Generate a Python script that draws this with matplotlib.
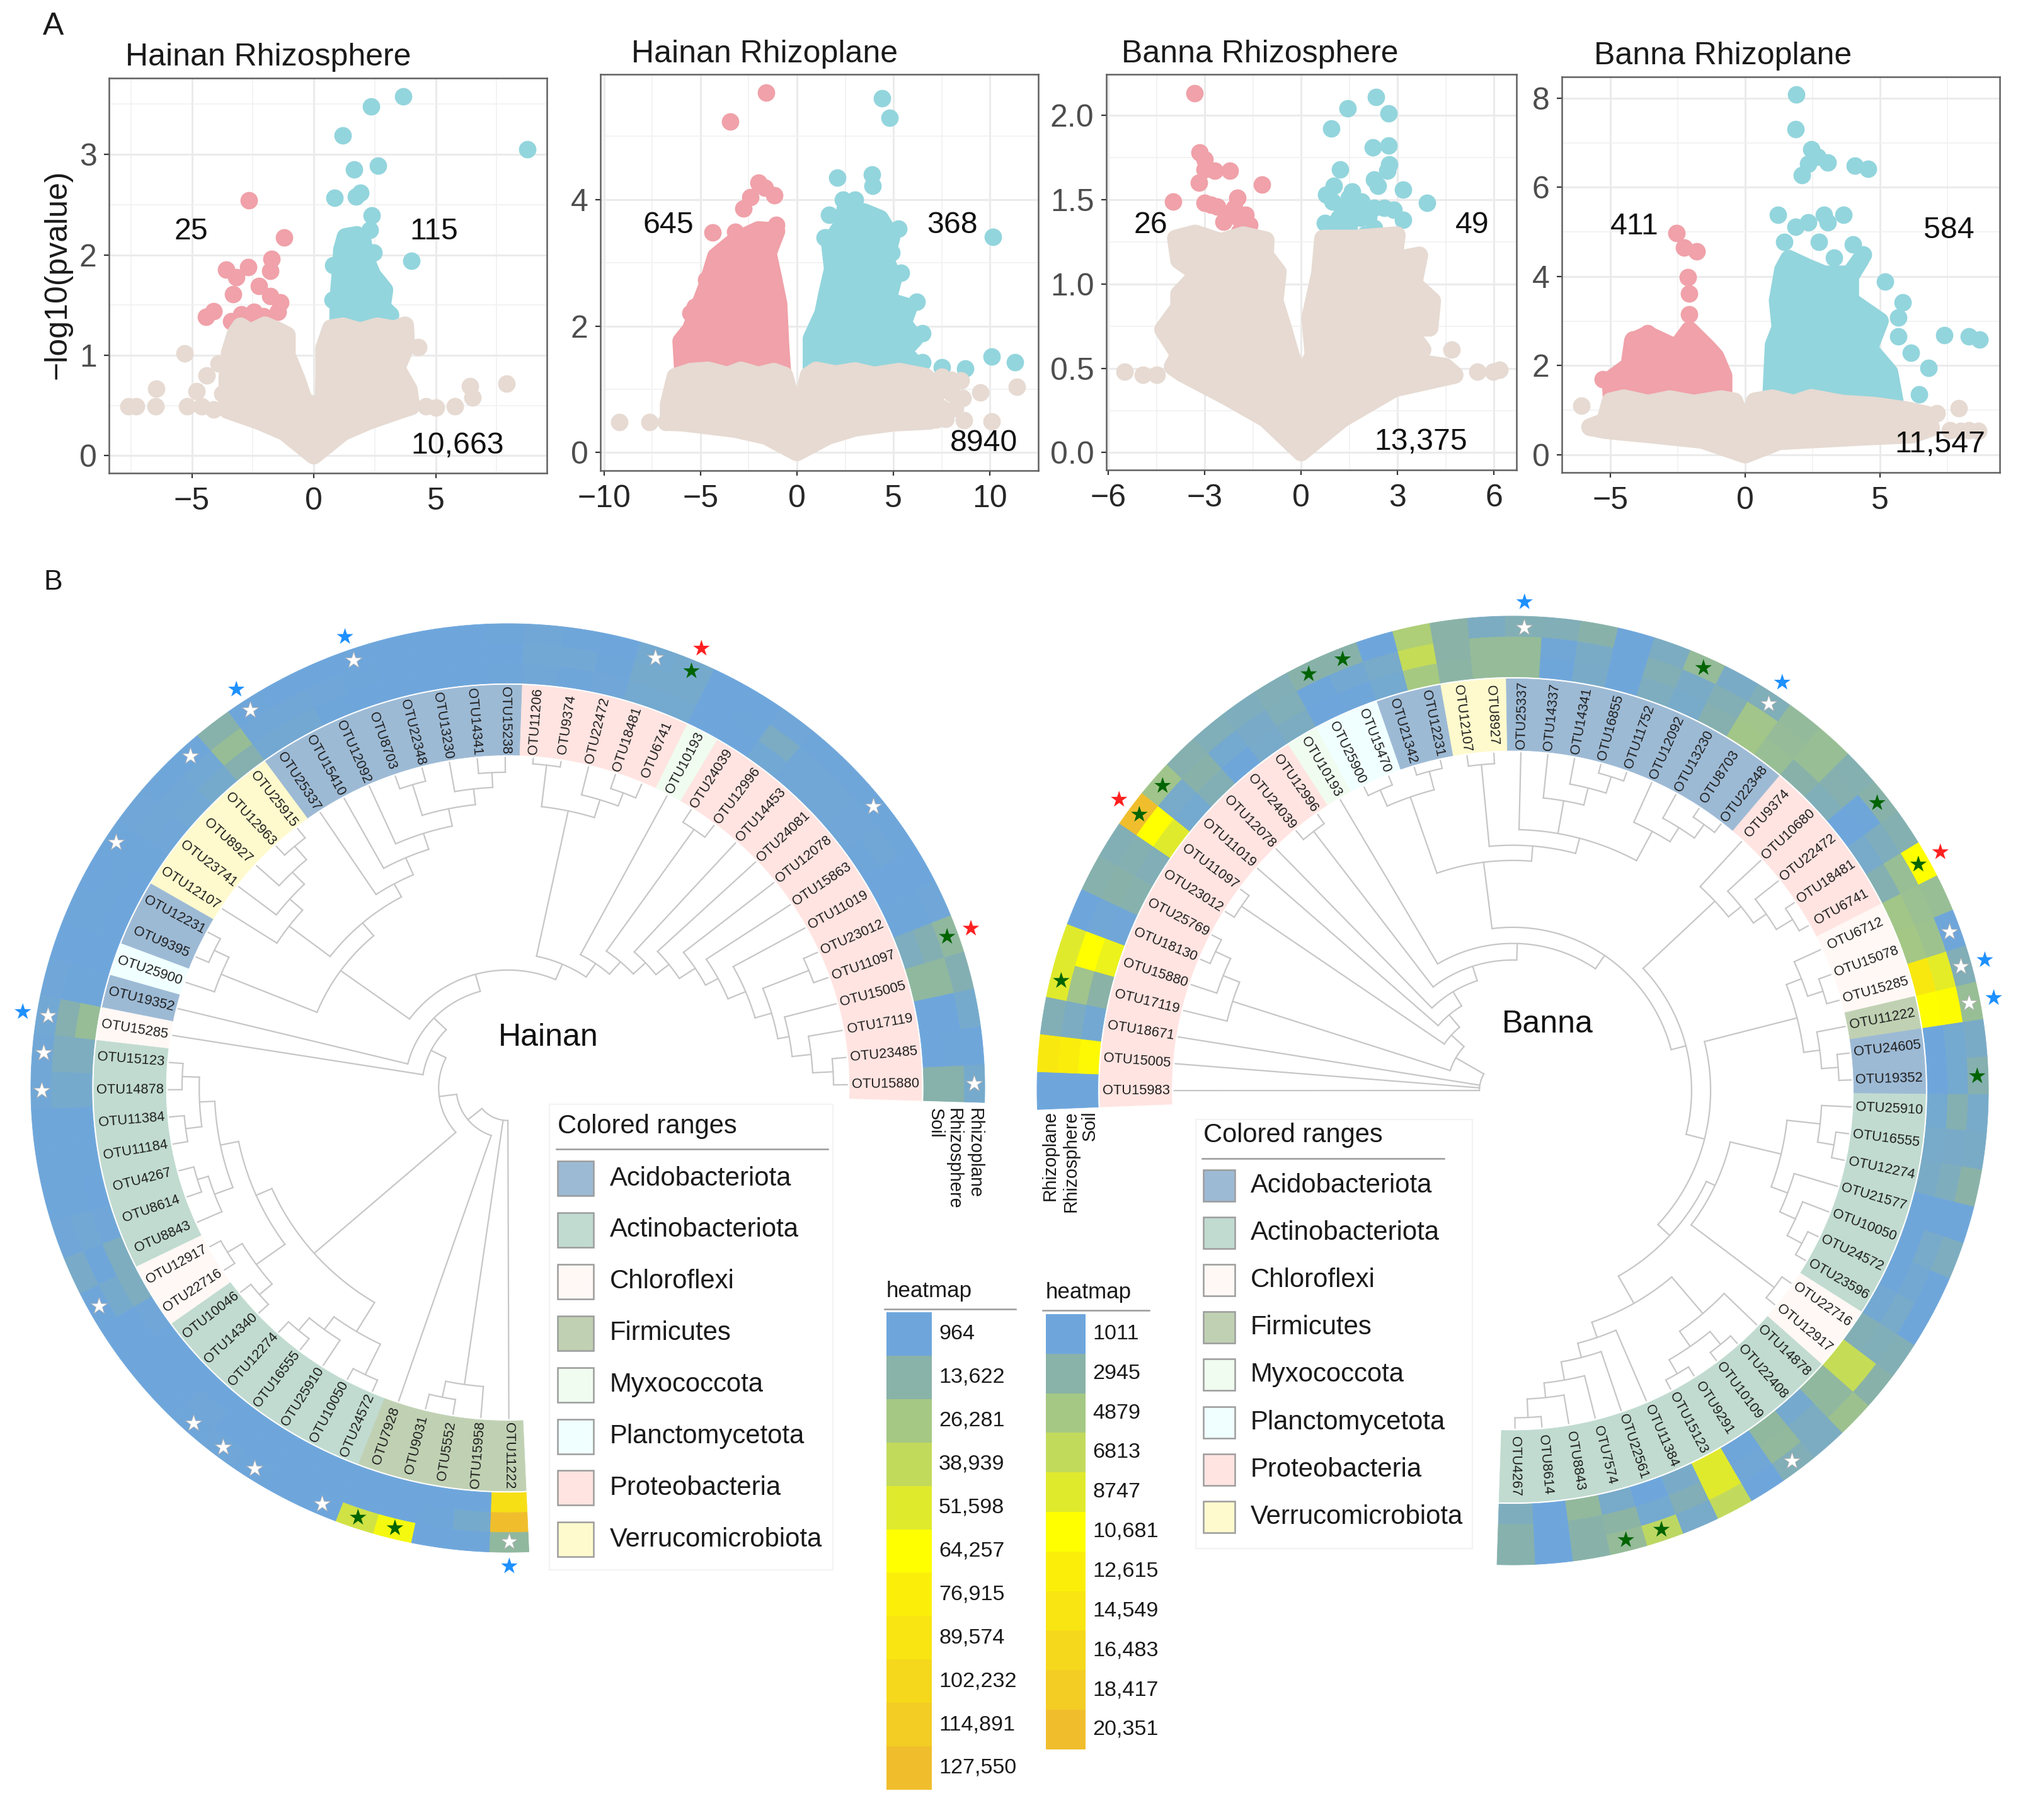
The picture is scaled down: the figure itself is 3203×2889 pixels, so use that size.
import numpy as np
import matplotlib
matplotlib.use('Agg')
import matplotlib.pyplot as plt
from matplotlib.colors import LinearSegmentedColormap

plt.rcParams['font.family'] = ['Liberation Sans', 'DejaVu Sans']

W, H = 3203, 2889
DPI = 200

BEIGE = '#E6DAD2'
PINK = '#F0A1A9'
CYAN = '#93D5DD'

############################
# Panel A, volcano data    #
############################

# polygon = centres of the dots on the rim of the overlapped mass, pts = dots that stand alone
hrs_beige_poly_x = [0, -1.2, -2.25, -3.55, -3.55, -3.55, -3.45, -3.2, -3.0, -2.6, -2.0, -1.5, -1.1, -1.1, -0.71, -0.4, 0, 0.4, 0.42, 0.42, 0.7, 1.2, 1.9, 2.6, 3.3, 3.75, 3.8, 3.4, 3.9, 4.0, 3.55, 2.25, 1.2]
hrs_beige_poly_y = [0, 0.235, 0.345, 0.455, 0.5, 0.77, 1.03, 1.22, 1.29, 1.23, 1.3, 1.25, 1.2, 1.0, 0.77, 0.55, 0.5, 0.55, 0.77, 1.07, 1.27, 1.29, 1.24, 1.29, 1.26, 1.3, 1.1, 0.87, 0.66, 0.49, 0.455, 0.345, 0.235]
hrs_beige_x = [-7.6, -7.3, -6.5, -6.45, -5.3, -4.4, -4.8, 5.8, 6.5, 6.4, 7.9, 4.3, -5.2, -4.6, -4.1, 4.6, 5.0, -3.9, -3.75]
hrs_beige_y = [0.49, 0.49, 0.49, 0.67, 1.02, 0.80, 0.64, 0.49, 0.58, 0.69, 0.72, 1.08, 0.49, 0.49, 0.46, 0.49, 0.48, 0.92, 0.62]
hrs_pink_x = [-2.66, -1.21, -1.72, -1.79, -3.59, -2.69, -3.19, -2.24, -3.32, -1.79, -1.37, -4.43, -4.12, -1.48, -2.98, -2.45, -3.38, -2.06, -2.72, -1.93]
hrs_pink_y = [2.54, 2.17, 1.96, 1.84, 1.85, 1.88, 1.78, 1.69, 1.61, 1.59, 1.53, 1.38, 1.44, 1.43, 1.41, 1.43, 1.34, 1.39, 1.31, 1.32]
hrs_cyan_poly_x = [1.0, 1.0, 1.1, 1.15, 1.3, 1.77, 2.0, 2.15, 2.4, 2.9, 2.8, 3.15, 3.0]
hrs_cyan_poly_y = [1.25, 1.55, 1.85, 2.05, 2.18, 2.2, 2.15, 1.95, 1.8, 1.65, 1.48, 1.4, 1.25]
hrs_cyan_x = [3.67, 2.35, 1.19, 8.76, 2.64, 1.64, 0.84, 1.72, 1.9, 2.37, 4.01, 2.3, 0.8, 0.78, 2.45, 2.2]
hrs_cyan_y = [3.58, 3.48, 3.19, 3.05, 2.89, 2.85, 2.57, 2.58, 2.62, 2.39, 1.94, 2.25, 1.9, 1.55, 2.02, 2.02]

hrp_beige_poly_x = [0, -1.6, -3.2, -5.9, -6.65, -6.65, -6.3, -5.5, -4.6, -3.6, -2.9, -2.0, -1.2, -0.65, -0.4, 0, 0.4, 0.6, 1.0, 2.0, 3.0, 4.0, 5.3, 6.65, 7.4, 7.0, 6.9, 5.0, 3.0, 1.6]
hrp_beige_poly_y = [0, 0.26, 0.37, 0.47, 0.48, 0.76, 1.2, 1.28, 1.3, 1.22, 1.3, 1.22, 1.28, 1.22, 0.95, 0.75, 0.95, 1.22, 1.3, 1.24, 1.29, 1.22, 1.28, 1.2, 1.0, 0.8, 0.5, 0.47, 0.39, 0.26]
hrp_beige_x = [-9.2, -7.65, -6.8, 11.4, 10.1, 8.65, 7.7, 8, 8.5, 7.5, 9.5, 8.0, 8.6, 8.2, 7.5, 7.2]
hrp_beige_y = [0.48, 0.48, 0.48, 1.04, 0.49, 0.51, 0.53, 0.94, 1.14, 1.2, 0.95, 1.15, 0.86, 0.7, 0.7, 0.52]
hrp_pink_poly_x = [-5.9, -6.0, -5.5, -5.2, -4.7, -4.2, -3.2, -2.0, -1.06, -1.5, -1.25, -0.95, -0.85, -0.75]
hrp_pink_poly_y = [1.25, 1.76, 1.95, 2.2, 2.6, 3.1, 3.35, 3.52, 3.5, 3.15, 2.8, 2.35, 1.7, 1.25]
hrp_pink_x = [-1.6, -3.46, -2, -1.16, -1.66, -2.4, -2.76, -4.36, -1.06, -3.2, -5.3, -5.5, -4.7]
hrp_pink_y = [5.69, 5.23, 4.27, 4.07, 4.19, 4.04, 3.86, 3.48, 3.6, 3.49, 2.3, 2.2, 2.73]
hrp_cyan_poly_x = [0.75, 0.75, 1.35, 1.55, 1.85, 1.7, 2.33, 2.5, 3.5, 4.3, 4.9, 4.6, 5.0, 4.7, 5.8, 5.5, 6.1, 5.5, 6.1, 6.0]
hrp_cyan_poly_y = [1.25, 1.8, 2.2, 2.5, 2.9, 3.3, 3.6, 3.85, 3.8, 3.7, 3.4, 3.05, 2.75, 2.4, 2.3, 2.05, 1.8, 1.6, 1.4, 1.25]
hrp_cyan_x = [4.4, 4.8, 2.1, 3.9, 3.93, 1.66, 2.4, 4.9, 5.26, 1.5, 10.15, 10.1, 8.7, 7.5, 11.3, 5.4, 6.2, 6.5, 6.5, 1.45, 3.0]
hrp_cyan_y = [5.6, 5.29, 4.35, 4.4, 4.22, 3.76, 4.0, 3.16, 3.54, 3.4, 3.41, 1.52, 1.33, 1.35, 1.43, 2.84, 2.38, 1.89, 1.43, 3.4, 4.0]

brs_beige_poly_x = [0, -1.1, -2.3, -3.7, -4.0, -3.8, -4.3, -3.8, -3.8, -3.2, -3.8, -3.9, -3.3, -2.5, -1.8, -1.1, -1.12, -0.72, -0.82, -0.56, -0.32, 0, 0.38, 0.28, 0.58, 0.68, 1.68, 2.98, 2.88, 3.68, 3.5, 4.08, 4.0, 3.28, 3.78, 3.4, 4.48, 4.78, 2.9, 1.28]
brs_beige_poly_y = [0, 0.2, 0.33, 0.47, 0.51, 0.58, 0.73, 0.86, 0.94, 1.06, 1.14, 1.27, 1.3, 1.25, 1.29, 1.26, 1.17, 1.07, 0.9, 0.74, 0.58, 0.42, 0.58, 0.8, 1.06, 1.27, 1.27, 1.29, 1.14, 1.17, 1.0, 0.9, 0.74, 0.74, 0.61, 0.54, 0.51, 0.46, 0.38, 0.2]
brs_beige_x = [-5.5, -4.92, -4.5, 5.48, 6.18, 5.98, 4.68]
brs_beige_y = [0.48, 0.46, 0.46, 0.48, 0.49, 0.48, 0.61]
brs_pink_x = [-3.32, -3.16, -3.0, -3.0, -2.68, -2.22, -3.18, -1.22, -3.98, -3.0, -1.98, -2.62, -2.08, -2.42, -1.72, -1.62, -1.92, -2.22, -2.8, -2.0, -1.8]
brs_pink_y = [2.13, 1.78, 1.74, 1.68, 1.67, 1.67, 1.6, 1.59, 1.49, 1.48, 1.51, 1.46, 1.45, 1.37, 1.41, 1.35, 1.31, 1.42, 1.47, 1.4, 1.37]
brs_cyan_x = [2.32, 1.44, 2.72, 0.94, 2.24, 2.72, 2.74, 2.68, 1.22, 2.28, 1.02, 3.18, 3.92, 0.78, 1.58, 2.38, 1.88, 2.58, 3.18, 0.74, 1.18, 1.88, 2.28, 1.98, 1.48, 2.88, 1.28, 1.68, 2.28, 0.98, 1.48, 1.1, 1.6, 2.1]
brs_cyan_y = [2.11, 2.04, 2.01, 1.92, 1.81, 1.82, 1.71, 1.67, 1.68, 1.62, 1.58, 1.56, 1.48, 1.53, 1.55, 1.58, 1.49, 1.45, 1.38, 1.36, 1.39, 1.39, 1.33, 1.29, 1.34, 1.44, 1.45, 1.45, 1.45, 1.49, 1.51, 1.33, 1.42, 1.4]

brp_beige_poly_x = [0, -1.6, -3.5, -5.2, -5.76, -5.2, -5.0, -4.5, -3.6, -2.8, -1.9, -0.9, -0.4, -0.1, 0, 0.1, 0.35, 1.0, 1.8, 2.45, 3.6, 4.83, 6.0, 6.74, 6.9, 6.2, 4.36, 1.26]
brp_beige_poly_y = [0, 0.33, 0.45, 0.55, 0.62, 0.75, 1.2, 1.27, 1.15, 1.25, 1.15, 1.25, 1.2, 0.7, 0.55, 0.7, 1.2, 1.27, 1.15, 1.28, 1.15, 1.1, 1.0, 0.9, 0.6, 0.45, 0.4, 0.3]
brp_beige_x = [7.93, -6.07, -5.76, 7.1, 8.64, 8.0, 8.3, 7.6]
brp_beige_y = [1.04, 1.1, 0.62, 0.93, 0.53, 0.54, 0.55, 0.55]
brp_pink_poly_x = [-4.95, -5.0, -4.3, -4.17, -3.62, -2.55, -2.07, -1.4, -1.1, -0.8, -0.8]
brp_pink_poly_y = [1.2, 1.69, 2.0, 2.55, 2.7, 2.4, 2.8, 2.4, 2.2, 1.77, 1.2]
brp_pink_x = [-2.55, -2.26, -1.79, -2.12, -2.07, -2.07, -1.6, -3.62, -4.17, -5.29]
brp_pink_y = [4.98, 4.65, 4.56, 3.98, 3.61, 3.15, 1.2, 2.73, 2.58, 1.69]
brp_cyan_poly_x = [0.95, 1.05, 1.3, 1.2, 1.4, 1.62, 2.33, 2.93, 3.88, 4.3, 3.9, 3.9, 5.0, 4.6, 5.35, 5.55]
brp_cyan_poly_y = [1.2, 2.46, 2.85, 3.46, 4.15, 4.4, 4.2, 4.05, 4.05, 4.4, 4.0, 3.46, 3.0, 2.38, 1.85, 1.2]
brp_cyan_x = [1.9, 1.86, 2.45, 2.69, 3.05, 2.33, 2.1, 4.07, 4.55, 3.64, 2.93, 1.21, 2.33, 1.86, 3.05, 1.45, 2.74, 4.0, 3.29, 5.19, 5.83, 5.67, 7.38, 8.29, 8.69, 5.67, 6.14, 6.79, 6.45, 2.45, 4.36]
brp_cyan_y = [8.08, 7.31, 6.86, 6.68, 6.56, 6.53, 6.28, 6.49, 6.42, 5.39, 5.38, 5.38, 5.22, 5.11, 5.22, 4.78, 4.78, 4.72, 4.42, 3.88, 3.42, 3.08, 2.69, 2.65, 2.58, 2.65, 2.29, 1.95, 1.35, 1.31, 4.49]

############################
# Panel B, circular data   #
############################

phyla = ['Acidobacteriota', 'Actinobacteriota', 'Chloroflexi', 'Firmicutes', 'Myxococcota', 'Planctomycetota', 'Proteobacteria', 'Verrucomicrobiota']
phyla_colors = ['#9DBAD5', '#C1DBD1', '#FFF8F5', '#C0D1B3', '#F0FCF0', '#F0FFFF', '#FFE4E1', '#FFFACD']

hainan_otus = ['15880', '23485', '17119', '15005', '11097', '23012', '11019', '15863', '12078', '24081', '14453', '12996', '24039', '10193', '6741', '18481', '22472', '9374', '11206', '15238', '14341', '13230', '22348', '8703', '12092', '15410', '25337', '25915', '12963', '8927', '23741', '12107', '12231', '9395', '25900', '19352', '15285', '15123', '14878', '11384', '11184', '4267', '8614', '8843', '12917', '22716', '10046', '14340', '12274', '16555', '25910', '10050', '24572', '7928', '9031', '5552', '15958', '11222']
hainan_phylum = [6]*13 + [4] + [6]*5 + [0]*8 + [7]*5 + [0]*2 + [5] + [0] + [2] + [1]*7 + [2]*2 + [1]*7 + [3]*5
hainan_rhizoplane = [5000, 1500, 5000, 11000, 17000, 2000, 1000, 1500, 1500, 1500, 1500, 2000, 1200, 1000, 5000, 4000, 1200, 1500, 2500, 1500, 1000, 1000, 1000, 1000, 1000, 1000, 1500, 13000, 1500, 1500, 2000, 1500, 1200, 1500, 1000, 2000, 3000, 2500, 2500, 1500, 1500, 1500, 2000, 6000, 1500, 1200, 1200, 1200, 1500, 2000, 1500, 1200, 1200, 45000, 60000, 1000, 1500, 17000]
hainan_rhizosphere = [13000, 1500, 1200, 17000, 11000, 1500, 1200, 2500, 2000, 2500, 2500, 7000, 1500, 1200, 5000, 5000, 1500, 3000, 3000, 1200, 1200, 1200, 1200, 1500, 2000, 2500, 2500, 20000, 3000, 2500, 2500, 1500, 1500, 1500, 1000, 1500, 12000, 8000, 5000, 1500, 1500, 1500, 3000, 1500, 5000, 1200, 1200, 1200, 2000, 1200, 1200, 1200, 1200, 1000, 1200, 1500, 5000, 127550]
hainan_soil = [13000, 1200, 1200, 17000, 8000, 1500, 1200, 1500, 2000, 2500, 2500, 3000, 1200, 1200, 4000, 4000, 2000, 1500, 2500, 1500, 1000, 1000, 1000, 1200, 1500, 3500, 3500, 12000, 5000, 3000, 2000, 1500, 1200, 1200, 1200, 1500, 20000, 8000, 5000, 1500, 1500, 1200, 2000, 8000, 8000, 2000, 1200, 1200, 1200, 1200, 1200, 1200, 1200, 1200, 1200, 1200, 1200, 95000]
hainan_white = [0, 8, 15, 23, 26, 28, 31, 36, 37, 38, 44, 48, 49, 50, 52, 57]
hainan_green = [4, 14, 53, 54]
hainan_red = [4, 14]
hainan_blue = [23, 26, 36, 57]

banna_otus = ['15983', '15005', '18671', '17119', '15880', '18130', '25769', '23012', '11097', '11019', '12078', '24039', '12996', '10193', '25900', '15470', '21342', '12231', '12107', '8927', '25337', '14337', '14341', '16855', '11752', '12092', '13230', '8703', '22348', '9374', '10680', '22472', '18481', '6741', '6712', '15078', '15285', '11222', '24605', '19352', '25910', '16555', '12274', '21577', '10050', '24572', '23596', '22716', '12917', '14878', '22408', '10109', '9291', '15123', '11384', '22561', '7574', '8843', '8614', '4267']
banna_phylum = [6]*13 + [4] + [5]*2 + [0]*2 + [7]*2 + [0]*9 + [6]*5 + [2]*3 + [3] + [0]*2 + [1]*7 + [2]*2 + [1]*11
banna_rhizoplane = [1011, 14000, 2500, 8747, 8747, 1011, 2800, 2500, 20351, 4500, 2700, 2300, 2200, 2400, 2900, 2900, 1011, 5500, 3000, 2000, 2500, 2400, 2900, 1100, 2000, 3800, 1900, 2300, 3700, 4000, 2600, 2900, 2600, 10681, 4000, 1100, 2400, 4000, 1900, 2700, 1700, 1900, 3000, 1100, 2100, 1100, 1100, 2500, 2900, 4300, 2000, 2400, 1011, 6800, 1700, 6500, 3800, 2900, 1011, 2800]
banna_rhizosphere = [1011, 13000, 2000, 4500, 10681, 1300, 2900, 2600, 10681, 1700, 2900, 1500, 1800, 2300, 1100, 1400, 1700, 7000, 3000, 3800, 3800, 1300, 1900, 1100, 2500, 1900, 2500, 4600, 3800, 4000, 2700, 1100, 2200, 4000, 4200, 4400, 9000, 11000, 1500, 1500, 2600, 1800, 2200, 1100, 1700, 1400, 1700, 2300, 7000, 3500, 2000, 3600, 1300, 8747, 2400, 1500, 3200, 2900, 1011, 2800]
banna_soil = [1011, 11500, 1400, 3000, 9500, 1200, 2800, 2400, 8747, 1500, 2500, 1100, 1700, 2000, 1011, 1100, 1500, 5000, 3200, 3800, 3800, 1100, 1800, 1100, 2100, 1700, 2700, 4700, 4000, 2900, 2300, 1011, 1700, 2600, 4700, 4800, 14000, 10800, 1011, 1011, 1500, 1700, 1900, 1100, 1100, 1100, 1400, 2500, 7000, 3500, 1600, 3500, 1100, 8747, 1800, 1011, 1700, 3600, 1011, 2200]
banna_white = [20, 27, 35, 36, 37, 51]
banna_green = [3, 8, 9, 14, 15, 25, 31, 33, 39, 55, 56]
banna_red = [8, 33]
banna_blue = [20, 27, 36, 37]

# trees: [node radius, child, child, ...], an int is a leaf index
ht_right = [.29, [.325, [.36, [.395, [.43, [.47, [.50, [.54, [.576, [.60, [.64, [.683, 0, 1], 2], 3], [.68, 4, 5]], 6], 7], 8], 9], 10], [.68, 11, 12]], 13], [.61, [.65, [.68, 14, 15], 16], [.70, 17, 18]]]
ht_acido = [.50, [.54, [.576, [.614, [.648, [.68, 19, 20], 21], [.683, 22, 23]], 24], 25], 26]
ht_verru = [.576, [.612, [.648, [.686, 27, 28], 29], 30], 31]
ht_upper = [.432, [.468, ht_acido, ht_verru], [.649, [.683, 32, 33], 34]]
ht_actino = [.54, [.576, [.615, [.647, [.683, 37, 38], [.681, 39, 40]], [.656, [.68, 41, 42], 43]], [.65, [.686, 44, 45], [.685, 46, 47]]], [.613, [.647, [.682, 48, 49], 50], [.686, 51, 52]]]
hainan_tree = [.07, [.108, [.145, [.18, [.216, [.254, ht_right, ht_upper], 35], 36], ht_actino], 53], [.645, [.68, 54, 55], 56], 57]

bt_mid = [.485, [.655, [.692, 14, 15], [.695, 16, 17]], [.517, [.69, 18, 19], [.55, 20, [.62, 21, [.657, 22, [.693, 23, 24]]], [.62, 25, [.655, 26, [.69, 27, 28]]]]]]
bt_prot = [.583, 29, [.617, 30, [.65, 31, [.69, 32, 33]]]]
bt_n34 = [.617, [.651, 34, [.685, 35, 36]], [.651, 37, [.686, 38, 39]]]
bt_n40 = [.47, [.58, [.65, 40, [.685, 41, 42]], [.617, 43, [.653, 44, [.688, 45, 46]]]], [.689, 47, 48]]
bt_q = [.516, [.617, 49, [.656, [.691, 50, 51], [.69, 52, 53]]], [.55, 54, [.581, 55, [.62, 56, [.651, 57, [.69, 58, 59]]]]]]
bt_u = [.344, bt_mid, [.376, bt_prot, [.416, bt_n34, [.45, bt_n40, bt_q]]]]
banna_tree = [.07, 0, 1, 2, [.138, [.618, [.655, [.69, 5, 6], 4], 3], [.174, [.69, 7, 8], [.208, 9, [.243, 10, [.275, [.688, 11, 12], [.31, 13, bt_u]]]]]]]

heat_colors = ['#6EA6DC', '#89B2A8', '#A5C884', '#C2DA5C', '#E0EA2D', '#FFFF00', '#FBEF0A', '#F8E512', '#F5D81B', '#F3CC24', '#F0BE2D']
hainan_levels = [964, 13622, 26281, 38939, 51598, 64257, 76915, 89574, 102232, 114891, 127550]
banna_levels = [1011, 2945, 4879, 6813, 8747, 10681, 12615, 14549, 16483, 18417, 20351]


##################
# Helper drawing #
##################

def px_axes(fig, left, top, right, bottom):
    return fig.add_axes([left / W, 1 - bottom / H, (right - left) / W, (bottom - top) / H])


def volcano(ax, xlim, ylim, xticks, yticks, xminor, yminor, yfmt, groups):
    for polys, color, z in groups:
        if polys[0] is not None:
            # thick round stroke so the rim sits one dot radius outside the centres
            ax.fill(polys[0], polys[1], color=color, lw=10, joinstyle='round', zorder=z)
        ax.scatter(polys[2], polys[3], s=100, color=color, lw=0, zorder=z)
    ax.set_xlim(*xlim)
    ax.set_ylim(*ylim)
    ax.set_xticks(xticks)
    ax.set_yticks(yticks)
    ax.set_yticklabels([yfmt.format(v) for v in yticks])
    ax.set_xticks(xminor, minor=True)
    ax.set_yticks(yminor, minor=True)
    ax.grid(True, which='major', color='#EBEBEB', lw=1.1, zorder=0)
    ax.grid(True, which='minor', color='#F1F1F1', lw=0.6, zorder=0)
    ax.set_axisbelow(True)
    ax.tick_params(which='minor', length=0)
    ax.tick_params(axis='x', which='major', labelsize=18, length=3, width=0.8, color='#333333', labelcolor='#262626', pad=5)
    ax.tick_params(axis='y', which='major', labelsize=18, length=3, width=0.8, color='#333333', labelcolor='#4D4D4D', pad=4)
    for s in ax.spines.values():
        s.set_color('#606060')
        s.set_linewidth(0.9)


class Ring:
    def __init__(self, cx, cy, rx, ry, start, step):
        self.cx, self.cy, self.rx, self.ry, self.start, self.step = cx, cy, rx, ry, start, step

    def xy(self, r, ang):
        t = np.radians(ang)
        return self.cx + self.rx * r * np.cos(t), self.cy - self.ry * r * np.sin(t)

    def leaf_angle(self, i):
        return self.start + self.step * (i + 0.5)

    def cell(self, ax, i, r0, r1, color, z=2):
        a = np.linspace(self.start + self.step * i, self.start + self.step * (i + 1), 8)
        xi, yi = self.xy(r0, a)
        xo, yo = self.xy(r1, a)
        ax.fill(np.r_[xi, xo[::-1]], np.r_[yi, yo[::-1]], color=color, lw=0.3, zorder=z)


def draw_tree(ax, ring, node, color='#C6C6C6', lw=0.8):
    # returns angle of the node, draws radial stubs and the arc on the way back
    r = node[0]
    angles = []
    for child in node[1:]:
        if isinstance(child, int):
            ang = ring.leaf_angle(child)
            rc = 0.712
        else:
            ang, rc = draw_tree(ax, ring, child, color, lw)
        x, y = ring.xy(np.array([r, rc]), ang)
        ax.plot(x, y, color=color, lw=lw, zorder=1, solid_capstyle='round')
        angles.append(ang)
    a = np.linspace(min(angles), max(angles), 40)
    x, y = ring.xy(r, a)
    ax.plot(x, y, color=color, lw=lw, zorder=1)
    return (min(angles) + max(angles)) / 2, r


def draw_ring(ax, ring, otus, phylum, soil, rhizosphere, rhizoplane, cmap, levels):
    lo, hi = levels[0], levels[-1]
    for i, otu in enumerate(otus):
        ring.cell(ax, i, 0.717, 0.868, phyla_colors[phylum[i]])
        for row, vals in enumerate([soil, rhizosphere, rhizoplane]):
            r0 = 0.872 + row * 0.0427
            ring.cell(ax, i, r0, r0 + 0.0427, cmap((vals[i] - lo) / (hi - lo)))
        ang = ring.leaf_angle(i)
        x, y = ring.xy(0.792, ang)
        a = ((ang + 180) % 360) - 180
        if a > 90:
            a -= 180
        elif a < -90:
            a += 180
        ax.text(x, y, 'OTU' + otu, fontsize=7.9, color='#1E1E1E', rotation=a, rotation_mode='anchor', ha='center', va='center', zorder=3)


def draw_stars(ax, ring, idx, r, color, edge='none'):
    x, y = ring.xy(r, np.array([ring.leaf_angle(i) for i in idx]))
    ax.scatter(x, y, marker='*', s=100, color=color, edgecolors=edge, linewidths=0.3, zorder=5)


def phyla_legend(ax, left, top, right, bottom, title_y, line_y, line_x1, swatch_x, swatch_w, swatch_h, first_y, dy, text_x):
    ax.add_patch(plt.Rectangle((left, top), right - left, bottom - top, fc='white', ec='#F3F3F3', lw=0.8, zorder=1))
    ax.text(swatch_x, title_y, 'Colored ranges', fontsize=15, va='center', ha='left', color='#1A1A1A', zorder=3)
    ax.plot([swatch_x - 2, line_x1], [line_y, line_y], color='#9A9A9A', lw=0.9, zorder=3)
    for k, name in enumerate(phyla):
        yc = first_y + k * dy
        ax.add_patch(plt.Rectangle((swatch_x, yc - swatch_h / 2), swatch_w, swatch_h, fc=phyla_colors[k], ec='#9C9C9C', lw=0.9, zorder=3))
        ax.text(text_x, yc, name, fontsize=15.1, va='center', ha='left', color='#1A1A1A', zorder=3)


def color_key(ax, x0, x1, top, cell_h, levels, title_y, line_y, line_x0, line_x1, text_x, fs):
    ax.text(x0, title_y, 'heatmap', fontsize=12.6, va='center', ha='left', color='#1A1A1A')
    ax.plot([line_x0, line_x1], [line_y, line_y], color='#9A9A9A', lw=0.9)
    for k, lev in enumerate(levels):
        y = top + k * cell_h
        ax.add_patch(plt.Rectangle((x0, y), x1 - x0, cell_h + 0.5, fc=heat_colors[k], ec='none'))
        label = f'{lev:,}' if lev > 10000 else str(lev)
        ax.text(text_x, y + cell_h / 2, label, fontsize=fs, va='center', ha='left', color='#1A1A1A')


########
# Main #
########

fig = plt.figure(figsize=(W / DPI, H / DPI), dpi=DPI, facecolor='white')

ax1 = px_axes(fig, 173, 124, 868, 751)
volcano(ax1, (-8.4, 9.56), (-0.173, 3.76), [-5, 0, 5], [0, 1, 2, 3], [-7.5, -2.5, 2.5, 7.5], [0.5, 1.5, 2.5, 3.5], '{:d}', [
    ((None, None, hrs_pink_x, hrs_pink_y), PINK, 2),
    ((hrs_cyan_poly_x, hrs_cyan_poly_y, hrs_cyan_x, hrs_cyan_y), CYAN, 2),
    ((hrs_beige_poly_x, hrs_beige_poly_y, hrs_beige_x, hrs_beige_y), BEIGE, 3)])

ax2 = px_axes(fig, 953, 118, 1648, 747)
volcano(ax2, (-10.18, 12.5), (-0.286, 5.98), [-10, -5, 0, 5, 10], [0, 2, 4], [-7.5, -2.5, 2.5, 7.5, 12.5], [1, 3, 5], '{:d}', [
    ((hrp_pink_poly_x, hrp_pink_poly_y, hrp_pink_x, hrp_pink_y), PINK, 2),
    ((hrp_cyan_poly_x, hrp_cyan_poly_y, hrp_cyan_x, hrp_cyan_y), CYAN, 2),
    ((hrp_beige_poly_x, hrp_beige_poly_y, hrp_beige_x, hrp_beige_y), BEIGE, 3)])

ax3 = px_axes(fig, 1756, 118, 2407, 746)
volcano(ax3, (-6.06, 6.7), (-0.103, 2.243), [-6, -3, 0, 3, 6], [0, 0.5, 1.0, 1.5, 2.0], [-4.5, -1.5, 1.5, 4.5], [0.25, 0.75, 1.25, 1.75], '{:.1f}', [
    ((None, None, brs_pink_x, brs_pink_y), PINK, 2),
    ((None, None, brs_cyan_x, brs_cyan_y), CYAN, 2),
    ((brs_beige_poly_x, brs_beige_poly_y, brs_beige_x, brs_beige_y), BEIGE, 3)])

ax4 = px_axes(fig, 2479, 122, 3174, 750)
volcano(ax4, (-6.8, 9.44), (-0.399, 8.48), [-5, 0, 5], [0, 2, 4, 6, 8], [-2.5, 2.5, 7.5], [1, 3, 5, 7], '{:d}', [
    ((brp_pink_poly_x, brp_pink_poly_y, brp_pink_x, brp_pink_y), PINK, 2),
    ((brp_cyan_poly_x, brp_cyan_poly_y, brp_cyan_x, brp_cyan_y), CYAN, 2),
    ((brp_beige_poly_x, brp_beige_poly_y, brp_beige_x, brp_beige_y), BEIGE, 3)])

# overlay in picture pixels, holds everything of panel B and the loose text
ov = fig.add_axes([0, 0, 1, 1], zorder=10)
ov.set_xlim(0, W)
ov.set_ylim(H, 0)
ov.axis('off')
ov.patch.set_alpha(0)

ov.text(85, 42, 'A', fontsize=18, ha='center', va='center', color='#1A1A1A')
ov.text(84, 925, 'B', fontsize=16, ha='center', va='center', color='#1A1A1A')
for tx, ty, name in [(199, 91, 'Hainan Rhizosphere'), (1002, 86, 'Hainan Rhizoplane'), (1780, 86, 'Banna Rhizosphere'), (2530, 89, 'Banna Rhizoplane')]:
    ov.text(tx, ty, name, fontsize=18, ha='left', va='center', color='#1A1A1A')
ov.text(92, 436, '\u2212log10(pvalue)', fontsize=18, rotation=90, ha='center', va='center', color='#1A1A1A')
for tx, ty, s in [(303, 367, '25'), (689, 367, '115'), (726, 707, '10,663'),
                  (1061, 357, '645'), (1512, 357, '368'), (1561, 703, '8940'),
                  (1826, 357, '26'), (2337, 357, '49'), (2255, 702, '13,375'),
                  (2594, 360, '411'), (3093, 365, '584'), (3079, 705, '11,547')]:
    ov.text(tx, ty, s, fontsize=17.4, ha='center', va='center', color='#111111')

hainan_cmap = LinearSegmentedColormap.from_list('hainan', list(zip(np.linspace(0, 1, 11), heat_colors)))
banna_cmap = LinearSegmentedColormap.from_list('banna', list(zip(np.linspace(0, 1, 11), heat_colors)))

rh = Ring(806, 1727, 757, 737, -1.8, 4.73)
draw_ring(ov, rh, hainan_otus, hainan_phylum, hainan_soil, hainan_rhizosphere, hainan_rhizoplane, hainan_cmap, hainan_levels)
draw_tree(ov, rh, hainan_tree)
draw_stars(ov, rh, hainan_white, 0.977, 'white', '#B0B0B0')
draw_stars(ov, rh, hainan_green, 0.977, '#006400')
draw_stars(ov, rh, hainan_red, 1.03, '#FF2020')
draw_stars(ov, rh, hainan_blue, 1.03, '#1E90FF')

rb = Ring(2401, 1731, 755, 753, 182.3, -4.57)
draw_ring(ov, rb, banna_otus, banna_phylum, banna_soil, banna_rhizosphere, banna_rhizoplane, banna_cmap, banna_levels)
draw_tree(ov, rb, banna_tree)
draw_stars(ov, rb, banna_white, 0.977, 'white', '#B0B0B0')
draw_stars(ov, rb, banna_green, 0.977, '#006400')
draw_stars(ov, rb, banna_red, 1.03, '#FF2020')
draw_stars(ov, rb, banna_blue, 1.03, '#1E90FF')

ov.text(870, 1647, 'Hainan', fontsize=18, ha='center', va='center', color='#111111')
ov.text(2456, 1626, 'Banna', fontsize=18, ha='center', va='center', color='#111111')

for tx, s in [(1485, 'Soil'), (1514, 'Rhizosphere'), (1547, 'Rhizoplane')]:
    ov.text(tx, 1759, s, fontsize=10.3, rotation=-90, ha='center', va='top', color='#1A1A1A')
for tx, s in [(1667, 'Rhizoplane'), (1700, 'Rhizosphere'), (1730, 'Soil')]:
    ov.text(tx, 1763, s, fontsize=10.3, rotation=90, ha='center', va='top', color='#1A1A1A')

phyla_legend(ov, 872, 1753, 1322, 2492, 1788, 1824, 1314, 885, 57, 55, 1870.5, 81.9, 968)
phyla_legend(ov, 1898, 1777, 2337, 2458, 1802, 1839, 2292, 1910, 50, 50, 1881.6, 75.2, 1985)

color_key(ov, 1407, 1479, 2083, 68.9, hainan_levels, 2049, 2078, 1404, 1612, 1490, 12.3)
color_key(ov, 1660, 1723, 2086, 62.8, banna_levels, 2052, 2080, 1655, 1824, 1734, 12.3)

fig.savefig('out.png', dpi=DPI, facecolor='white')
